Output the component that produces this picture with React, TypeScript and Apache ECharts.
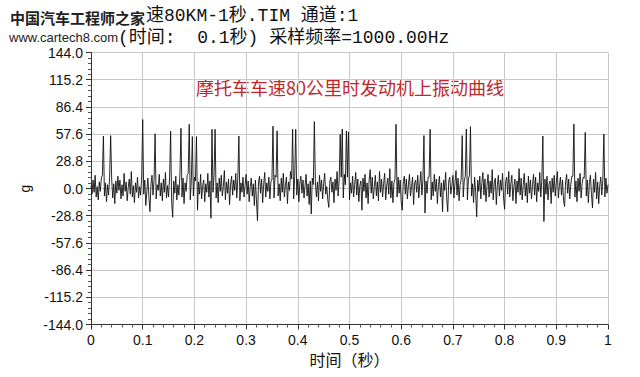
import React, { useEffect, useRef } from "react";
import * as echarts from "echarts";

// sampling step of the plotted trace (seconds)
const SAMPLE_STEP = 0.002;

// axis ranges / tick steps
const Y_MIN = -144;
const Y_MAX = 144;
const Y_STEP = 28.8;
const X_MIN = 0;
const X_MAX = 1;
const X_STEP = 0.1;

// acceleration in g, 0.05 s per block
const SIG_000 = [3, -6, 9, -4, 14, -9, 2, -12, 7, -3, 11, 14, 55.6, -8, 6, -14, 4, -7, 12, 56, 10, -10, 5, -16, 8];
const SIG_005 = [-5, 13, -2, 9, -11, 4, -8, 16, -3, 7, -13, 1, 10, -6, 18, -9, 3, -15, 6, -4, 12, -10, 2, -7, 12];
const SIG_010 = [73, -6, 9, -18, -3, 11, -9, -24.5, 5, 14, -7, 9, 58, -11, 4, -2, 15, -8, 6, -13, 10, -4, 17, -10, 3];
const SIG_015 = [-9, 12, 60.5, -14, -30.5, 8, -5, 13, -12, 4, -7, 15, 63.7, -9, 11, -16, 6, -3, 14, 16, 68, -12, 8, 55, -8];
const SIG_020 = [12, 8, 55, -23, 7, -6, 15, -11, 3, 9, -14, 5, -4, 16, -9, 8, -31.5, 62.7, -4, 14, 62.7, -10, 6, -15, 11];
const SIG_025 = [-3, 14, -8, 2, 19, -12, 7, -5, 10, -17, 4, 13, -7, 9, -2, 16, -10, 11, 55.6, -13, 6, -4, 12, -9, 3];
const SIG_030 = [15, -6, 8, -14, 2, 11, -8, 5, -18, 9, -12, -34, 7, 13, -5, 10, -15, 4, 17, -9, 6, -3, 12, -11, 8];
const SIG_035 = [9, 66, -10, 14, 12, 61, -8, 5, -13, 11, -4, 16, -9, 3, 12, -16, 7, -2, 18, 10, 62.7, -11, 13, 62.7, -7];
const SIG_040 = [10, -14, 6, 13, -5, 9, -10, 3, 15, -8, 5, -17, 8, -27, 11, 4, 70.8, 6, -9, 7, -13, 14, -3, 9, -11];
const SIG_045 = [5, 16, -6, 2, -12, -20, 8, 12, -4, 7, -15, 10, -2, 18, -8, 9, 57.4, 12, 63, -10, 15, 4, 61, 12, 60];
const SIG_050 = [-12, 6, -5, 13, -9, 4, 17, -7, 10, -14, 3, 8, -23, 11, -3, 15, -10, 6, -16, 9, 20, -5, 12, -11, 2];
const SIG_055 = [14, -8, 7, -13, 18, -4, 10, -9, 5, 16, -12, 3, 11, -6, 21, -10, 8, -15, 6, 10, 68, -9, 12, -5, 9];
const SIG_060 = [-14, -23, 7, 13, -6, 10, -11, 4, 15, -8, 2, 12, -17, 6, 9, -4, 14, -10, 5, 18, -7, 9, 56, -26, 8];
const SIG_065 = [-5, 12, 12, 62.7, -12, 7, -8, 15, -3, 10, -16, 4, 13, -9, 6, -24.5, 9, -2, 17, -11, -24.5, 8, 12, -6, 3];
const SIG_070 = [14, -10, 6, 19, -7, 11, -13, 4, 10, 56, -9, 8, 13, 63, -12, 10, 14, 65.5, -8, 5, -15, 12, -4, -30, 9];
const SIG_075 = [-3, 13, -11, 6, 17, -7, 10, -14, 3, 15, -9, 8, -5, 20, -12, 6, 11, -17, 4, 14, -8, 9, -2, 16, -10];
const SIG_080 = [-22, 7, 12, -6, 18, -9, 5, 14, -13, 2, 10, -16, 8, -4, 21, -7, 11, -12, 3, 16, -8, 6, -15, 13, -5];
const SIG_085 = [9, -11, 4, 15, -7, 12, -14, 6, -3, 17, -9, 9, 55.6, -35, 10, -6, 13, -12, 5, 8, -16, 11, -4, 14, -8];
const SIG_090 = [6, 18, -10, 3, 12, -7, 9, -13, -19, 7, 15, -5, 10, -11, 4, 13, 13, 68.3, -9, 8, -14, 11, -3, 16, -10];
const SIG_095 = [5, 12, 11, 59.5, -8, 9, -15, 6, 14, -6, -20.6, 10, -4, 17, -11, 7, -16, 3, 12, -7, 9, 57.7, -9, 11, -5, 4];

const SIGNAL = [
  ...SIG_000, ...SIG_005, ...SIG_010, ...SIG_015, ...SIG_020,
  ...SIG_025, ...SIG_030, ...SIG_035, ...SIG_040, ...SIG_045,
  ...SIG_050, ...SIG_055, ...SIG_060, ...SIG_065, ...SIG_070,
  ...SIG_075, ...SIG_080, ...SIG_085, ...SIG_090, ...SIG_095,
];

const HEADER_MARK = "中国汽车工程师之家";
const HEADER_1 = "速80KM-1秒.TIM 通道:1";
const HEADER_URL = "www.cartech8.com";
const HEADER_2 = "(时间:  0.1秒) 采样频率=1000.00Hz";
const CHART_TITLE = "摩托车车速80公里时发动机上振动曲线";
const X_NAME = "时间（秒）";
const Y_NAME = "g";

export default function App() {
  const ref = useRef<HTMLDivElement>(null);
  useEffect(() => {
    if (!ref.current) return;
    const chart = echarts.init(ref.current, null, { renderer: "svg" });
    const data = SIGNAL.map((v, i) => [i * SAMPLE_STEP, v]);
    const labelFont = "Liberation Sans, Arial, sans-serif";
    chart.setOption({
      animation: false,
      backgroundColor: "#ffffff",
      grid: { left: 91, right: 32, top: 52.5, bottom: 52.5, containLabel: false },
      xAxis: {
        type: "value",
        min: X_MIN,
        max: X_MAX,
        interval: X_STEP,
        name: X_NAME,
        nameLocation: "middle",
        nameGap: 24,
        nameTextStyle: { fontSize: 16, color: "#111", fontFamily: "Noto Sans CJK SC" },
        axisLine: { show: true, onZero: false, lineStyle: { color: "#333", width: 1 } },
        axisTick: { show: true, length: 5, lineStyle: { color: "#333" } },
        minorTick: { show: true, splitNumber: 5, length: 3, lineStyle: { color: "#555" } },
        axisLabel: {
          margin: 8,
          fontSize: 14,
          color: "#111",
          fontFamily: labelFont,
          formatter: (v: number) => (v === 0 ? "0" : v === 1 ? "1" : v.toFixed(1)),
        },
        splitLine: { show: true, lineStyle: { color: "#c8c8c8", width: 1 } },
      },
      yAxis: {
        type: "value",
        min: Y_MIN,
        max: Y_MAX,
        interval: Y_STEP,
        name: Y_NAME,
        nameLocation: "middle",
        nameRotate: 90,
        nameGap: 54,
        nameTextStyle: { fontSize: 14, color: "#111", fontFamily: labelFont },
        axisLine: { show: true, lineStyle: { color: "#333", width: 1 } },
        axisTick: { show: true, length: 5, lineStyle: { color: "#333" } },
        minorTick: { show: true, splitNumber: 5, length: 3, lineStyle: { color: "#555" } },
        axisLabel: {
          margin: 8,
          fontSize: 14,
          color: "#111",
          fontFamily: labelFont,
          formatter: (v: number) => v.toFixed(1),
        },
        splitLine: { show: true, lineStyle: { color: "#c8c8c8", width: 1 } },
      },
      series: [
        {
          type: "line",
          data,
          showSymbol: false,
          symbol: "none",
          lineStyle: { color: "#111", width: 0.9 },
          silent: true,
        },
      ],
      graphic: [
        {
          type: "text",
          left: 10,
          top: 10,
          style: { text: HEADER_MARK, font: "bold 15px 'Noto Sans CJK SC'", fill: "#222" },
        },
        {
          type: "text",
          left: 146,
          top: 7,
          style: { text: HEADER_1, font: "18px 'Liberation Mono', 'Noto Sans CJK SC'", fill: "#111" },
        },
        {
          type: "text",
          left: 9,
          top: 31,
          style: { text: HEADER_URL, font: "13px 'Liberation Sans', sans-serif", fill: "#222" },
        },
        {
          type: "text",
          left: 118,
          top: 29,
          style: { text: HEADER_2, font: "18px 'Liberation Mono', 'Noto Sans CJK SC'", fill: "#111" },
        },
        {
          type: "text",
          left: 196,
          top: 78,
          style: { text: CHART_TITLE, font: "18px 'Noto Sans CJK SC'", fill: "#c0272d" },
        },
      ],
    });
    return () => chart.dispose();
  }, []);
  return (
    <div
      ref={ref}
      style={{ position: "absolute", left: 0, top: 0, width: 640, height: 377, background: "#fff" }}
    />
  );
}
